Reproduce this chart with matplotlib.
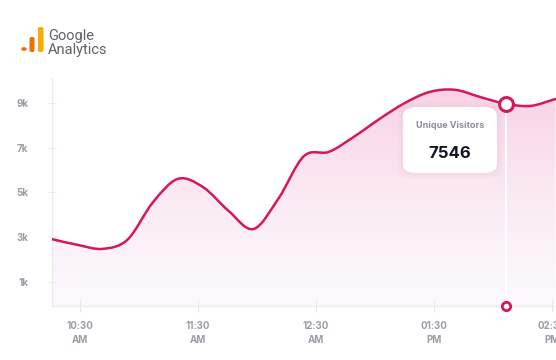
import numpy as np
import matplotlib
matplotlib.use("Agg")
import matplotlib.pyplot as plt
from matplotlib.path import Path
from matplotlib.patches import PathPatch, FancyBboxPatch, Circle


# hours after 10:30 AM and unique visitors
hours = [-0.24, -0.02, 0.19, 0.40, 0.62, 0.83, 1.04, 1.26, 1.47, 1.68, 1.90,
         2.11, 2.32, 2.54, 2.75, 2.96, 3.18, 3.39, 3.61, 3.82, 4.03]
visitors = [2910, 2650, 2470, 2870, 4570, 5610, 5250, 4170, 3360, 4710, 6640,
            6820, 7490, 8300, 9000, 9500, 9600, 9280, 8970, 8880, 9190]
hover_idx = 18
hover_label = "Unique Visitors"
hover_value = "7546"

xtick_pos = [0, 1, 2, 3, 4]
xtick_labels = ["10:30\nAM", "11:30\nAM", "12:30\nAM", "01:30\nPM", "02:30\nPM"]
ytick_pos = [1000, 3000, 5000, 7000, 9000]
ytick_labels = ["1k", "3k", "5k", "7k", "9k"]

LINE = "#d6175e"
GREY = "#9a9da8"


def smooth_path(x, y):
    # cubic hermite through the points with three-point slopes (catmull-rom like)
    x = np.asarray(x, float)
    y = np.asarray(y, float)
    n = len(x)
    h = np.diff(x)
    s = np.diff(y) / h
    m = np.zeros(n)
    for i in range(1, n - 1):
        m[i] = (s[i - 1] * h[i] + s[i] * h[i - 1]) / (h[i - 1] + h[i])
    m[0] = s[0]
    m[-1] = s[-1]
    verts = [(x[0], y[0])]
    codes = [Path.MOVETO]
    for i in range(n - 1):
        d = h[i] / 3
        verts += [(x[i] + d, y[i] + m[i] * d),
                  (x[i + 1] - d, y[i + 1] - m[i + 1] * d),
                  (x[i + 1], y[i + 1])]
        codes += [Path.CURVE4] * 3
    return verts, codes


def main():
    fig = plt.figure(figsize=(5.56, 3.6), dpi=100)
    fig.patch.set_facecolor("white")
    ax = fig.add_axes([52 / 556, 54 / 360, 1 - 52 / 556, 228 / 360])
    ax.set_xlim(-0.237, 4.034)
    ax.set_ylim(-90, 10130)

    verts, codes = smooth_path(hours, visitors)

    # gradient fill under the curve
    fill_verts = verts + [(hours[-1], -90), (hours[0], -90), verts[0]]
    fill_codes = codes + [Path.LINETO, Path.LINETO, Path.CLOSEPOLY]
    fill = PathPatch(Path(fill_verts, fill_codes), facecolor="none",
                     edgecolor="none", transform=ax.transData)
    ax.add_patch(fill)
    t = np.linspace(0, 1, 256)[:, None]
    top = np.array([248, 208, 228]) / 255
    bot = np.array([252, 249, 253]) / 255
    grad = (bot + (top - bot) * t ** 1.3)
    grad = np.repeat(grad[:, None, :], 2, axis=1)
    im = ax.imshow(grad, extent=[-0.237, 4.034, -90, 10130], origin="lower",
                   aspect="auto", zorder=1)
    im.set_clip_path(fill)

    ax.add_patch(PathPatch(Path(verts, codes), facecolor="none", edgecolor=LINE,
                           lw=1.8, zorder=3, capstyle="round"))

    # hover guide
    hx, hy = hours[hover_idx], visitors[hover_idx]
    ax.plot([hx, hx], [-90, hy], color="white", lw=1.3, zorder=2)
    ax.plot([hx], [hy], "o", ms=10, mfc="white", mec=LINE, mew=2.2, zorder=5,
            clip_on=False)
    ax.plot([hx], [-90], "o", ms=6, mfc="white", mec=LINE, mew=2.0, zorder=5,
            clip_on=False)

    # tooltip card
    for k, a in [(6, 0.03), (4, 0.04), (2, 0.05)]:
        fig.patches.append(FancyBboxPatch((403 / 556 - k / 556, 187 / 360 - k / 360),
                                          94 / 556 + 2 * k / 556, 66 / 360 + 2 * k / 360,
                                          boxstyle="round,pad=0,rounding_size=0.025",
                                          transform=fig.transFigure, fc="#c9a0b8",
                                          ec="none", alpha=a, zorder=6))
    fig.patches.append(FancyBboxPatch((403 / 556, 187 / 360), 94 / 556, 66 / 360,
                                      boxstyle="round,pad=0,rounding_size=0.025",
                                      transform=fig.transFigure, fc="white",
                                      ec="none", zorder=7))
    fig.text(450 / 556, 1 - 125 / 360, hover_label, ha="center", va="center",
             fontsize=6.5, fontweight="bold", color="#8b8f99", family="Inter",
             zorder=8)
    fig.text(450 / 556, 1 - 153 / 360, hover_value, ha="center", va="center",
             fontsize=12, fontweight="bold", color="#101426", family="Inter",
             zorder=8)

    # axes styling
    for s in ["top", "right"]:
        ax.spines[s].set_visible(False)
    for s in ["left", "bottom"]:
        ax.spines[s].set_color("#ececf0")
        ax.spines[s].set_linewidth(1.0)
    ax.set_xticks(xtick_pos)
    ax.set_xticklabels(xtick_labels, fontsize=7, fontweight="bold", color=GREY,
                       family="Inter", linespacing=1.5)
    ax.set_yticks(ytick_pos)
    ax.set_yticklabels(ytick_labels, fontsize=7, fontweight="bold", color=GREY,
                       family="Inter")
    ax.tick_params(axis="x", direction="inout", length=9, color="#e6e6ea", pad=6)
    ax.tick_params(axis="y", direction="inout", length=6, color="#ececf0", pad=14)
    ax.set_facecolor("none")

    # google analytics logo
    orange = "#e8710a"
    yellow = "#f9ab00"
    fig.patches.append(Circle((24 / 556, 1 - 49 / 360), 2.8 / 556, transform=fig.transFigure,
                              fc=orange, ec="none"))
    fig.patches.append(FancyBboxPatch((29.5 / 556, 1 - 52 / 360), 5 / 556, 15 / 360,
                                      boxstyle="round,pad=0,rounding_size=0.004",
                                      transform=fig.transFigure, fc=orange, ec="none"))
    fig.patches.append(FancyBboxPatch((38 / 556, 1 - 52 / 360), 5.5 / 556, 25 / 360,
                                      boxstyle="round,pad=0,rounding_size=0.004",
                                      transform=fig.transFigure, fc=yellow, ec="none"))
    fig.text(48 / 556, 1 - 43 / 360, "Google\nAnalytics", fontsize=10.5,
             color="#5f6368", family="Roboto", va="center", linespacing=1.0)

    fig.savefig("out.png", dpi=100, facecolor="white")


if __name__ == "__main__":
    main()
